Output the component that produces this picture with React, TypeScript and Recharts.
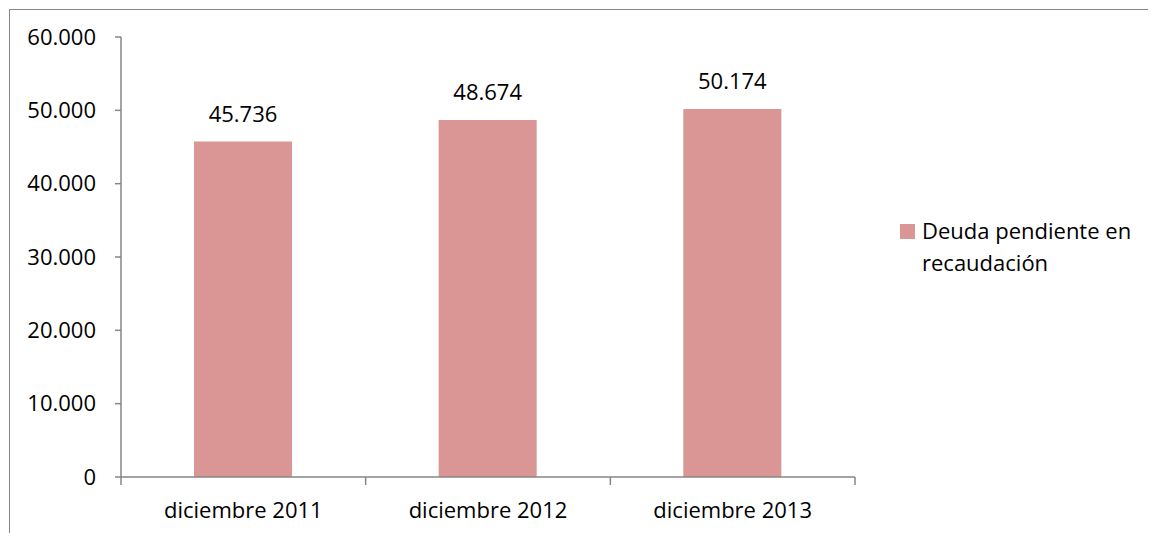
import { ComposedChart, Bar, Line, XAxis, YAxis, LabelList, Legend } from 'recharts'

const categories = ['diciembre 2011', 'diciembre 2012', 'diciembre 2013']
const deuda = [45736, 48674, 50174]
const yTicks = [0, 10000, 20000, 30000, 40000, 50000, 60000]
// integer positions = tick marks between categories, halves = category labels
const xTicks = [0, 0.5, 1, 1.5, 2, 2.5, 3]
const seriesName = 'Deuda pendiente en recaudación'

const data = categories.map((c, i) => ({ name: c, idx: i + 0.5, deuda: deuda[i] }))

const FONT = '"Open Sans", sans-serif'
const FS = 22
const AXIS = '#868686'
const BAR = '#D99694'

// 45736 -> "45.736"
const fmt = (v: number) => String(Math.round(v)).replace(/\B(?=(\d{3})+(?!\d))/g, '.')

const XTick = ({ x, y, payload }: any) => {
  const v = payload.value
  if (Number.isInteger(v)) {
    return <line x1={x} x2={x} y1={y} y2={y + 8} stroke={AXIS} strokeWidth={1.5} />
  }
  return (
    <text x={x} y={y + 25} dy="0.71em" textAnchor="middle" fill="#000" fontSize={FS} fontFamily={FONT}>
      {categories[Math.floor(v)]}
    </text>
  )
}

const LegendBox = () => (
  <div style={{ display: 'flex', alignItems: 'flex-start', fontFamily: FONT, fontSize: FS, color: '#000', lineHeight: '32px' }}>
    <span style={{ width: 15, height: 15, background: BAR, marginTop: 10, marginRight: 7, flexShrink: 0 }} />
    <span style={{ width: 235 }}>{seriesName}</span>
  </div>
)

export default function App() {
  return (
    <div style={{ width: 1146, height: 524, borderLeft: `1px solid ${AXIS}`, borderTop: `1px solid ${AXIS}`, marginLeft: 1, marginTop: 1 }}>
      <ComposedChart
        width={1146}
        height={523}
        data={data}
        margin={{ top: 27, right: 301, left: 0, bottom: 0 }}
      >
        <XAxis xAxisId="cat" dataKey="name" hide height={0} />
        <XAxis
          xAxisId="edge"
          type="number"
          dataKey="idx"
          domain={[0, 3]}
          ticks={xTicks}
          interval={0}
          axisLine={{ stroke: AXIS, strokeWidth: 1.5 }}
          tickLine={false}
          tickSize={0}
          tickMargin={0}
          tick={<XTick />}
          height={56}
        />
        <YAxis
          domain={[0, 60000]}
          ticks={yTicks}
          tickFormatter={fmt}
          width={111}
          axisLine={{ stroke: AXIS, strokeWidth: 1.5 }}
          tickLine={{ stroke: AXIS, strokeWidth: 1.5 }}
          tickSize={6}
          tickMargin={19}
          tick={{ fill: '#000', fontSize: FS, fontFamily: FONT }}
        />
        <Legend
          layout="horizontal"
          verticalAlign="middle"
          align="center"
          content={<LegendBox />}
          wrapperStyle={{ left: 890, top: 204, width: 262 }}
        />
        <Bar xAxisId="cat" dataKey="deuda" name={seriesName} fill={BAR} barSize={98} isAnimationActive={false}>
          <LabelList
            dataKey="deuda"
            position="top"
            offset={20}
            formatter={(v: any) => fmt(Number(v))}
            style={{ fill: '#000', fontSize: FS, fontFamily: FONT }}
          />
        </Bar>
        {/* invisible series so the edge axis is drawn */}
        <Line
          xAxisId="edge"
          dataKey="deuda"
          stroke="none"
          dot={false}
          activeDot={false}
          legendType="none"
          isAnimationActive={false}
        />
      </ComposedChart>
    </div>
  )
}
